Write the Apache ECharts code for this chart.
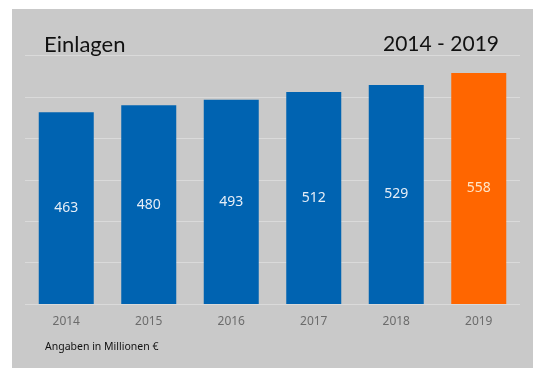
<!DOCTYPE html>
<html>
<head>
<meta charset="utf-8">
<script src="https://cdn.jsdelivr.net/npm/echarts@6/dist/echarts.min.js"></script>
<style>
html,body{margin:0;padding:0;background:#fff;}
#chart{width:533px;height:370px;}
</style>
</head>
<body>
<div id="chart"></div>
<script>
var categories = ['2014', '2015', '2016', '2017', '2018', '2019'];
var values = [463, 480, 493, 512, 529, 558];
var highlightYear = '2019';
var titleLeft = 'Einlagen';
var titleRight = '2014 - 2019';
var footnote = 'Angaben in Millionen €';

var chart = echarts.init(document.getElementById('chart'));
var barData = values.map(function (v, i) {
  var hi = categories[i] === highlightYear;
  return {
    value: v,
    itemStyle: { color: hi ? '#ff6600' : '#0063b1' },
    label: { color: hi ? '#ffe6c8' : '#e6eef7' }
  };
});

chart.setOption({
  animation: false,
  backgroundColor: '#ffffff',
  graphic: [{
    type: 'rect', z: -10, silent: true,
    shape: { x: 12, y: 9, width: 521, height: 359 },
    style: { fill: '#c9c9c9' }
  }],
  title: [
    { text: titleLeft, left: 39, top: 29,
      textStyle: { fontFamily: 'Lato', fontSize: 22, fontWeight: 'normal', color: '#111' } },
    { text: titleRight, right: 29, top: 29,
      textStyle: { fontFamily: 'Lato', fontSize: 21, fontWeight: 'normal', color: '#111' } },
    { text: footnote, left: 40, top: 337,
      textStyle: { fontFamily: 'Noto Sans', fontSize: 10.5, fontWeight: 'normal', color: '#111' } }
  ],
  grid: { left: 25, right: 13, top: 55.5, bottom: 66, containLabel: false },
  xAxis: {
    type: 'category',
    data: categories,
    axisLine: { show: false },
    axisTick: { show: false },
    axisLabel: { color: '#6b6b6b', fontFamily: 'Noto Sans', fontSize: 12, margin: 12 }
  },
  yAxis: {
    type: 'value',
    min: 0, max: 600, interval: 100,
    axisLabel: { show: false },
    axisLine: { show: false },
    axisTick: { show: false },
    splitLine: { lineStyle: { color: '#dadada', width: 1 } }
  },
  series: [{
    type: 'bar',
    data: barData,
    barWidth: 55,
    label: {
      show: true, position: 'inside',
      fontFamily: 'Noto Sans', fontSize: 14
    }
  }]
});
</script>
</body>
</html>
